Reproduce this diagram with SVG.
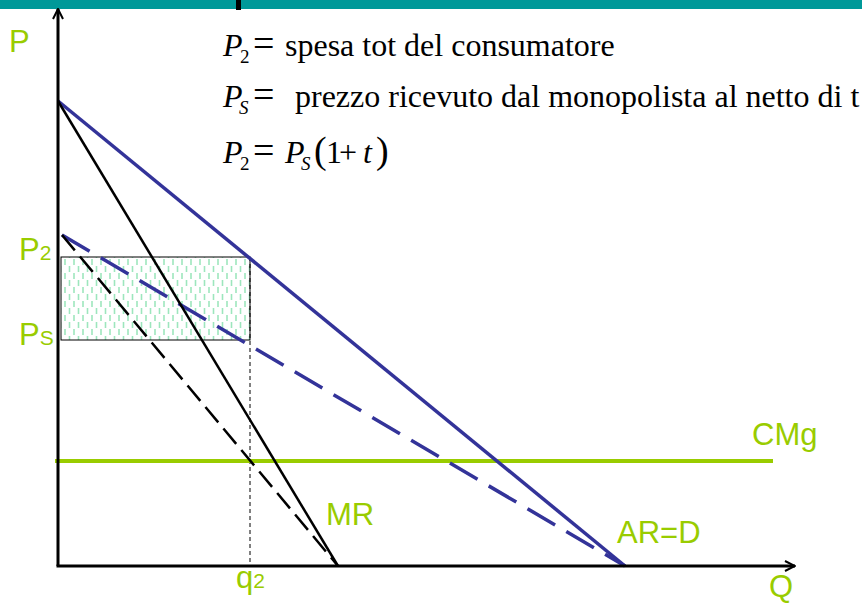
<svg xmlns="http://www.w3.org/2000/svg" width="862" height="604" viewBox="0 0 862 604">
<style>
.lbl{font-family:"Liberation Sans",Arial,sans-serif;fill:#99cc00;font-size:31px}
.lsub{font-size:21px}
.eq{font-family:"Liberation Serif","DejaVu Serif","Times New Roman",serif;fill:#000;font-size:32px}
.sub{font-size:19px}
.big{font-size:38px}
.it{font-style:italic}
.axis{stroke:#000;stroke-width:3;fill:none}
.blue{stroke:#333399;stroke-width:3.5;fill:none}
.blk{stroke:#000;stroke-width:2.5;fill:none}
</style>
<defs>
<marker id="arr" viewBox="0 0 12 12" refX="11" refY="6" markerWidth="12" markerHeight="12" markerUnits="userSpaceOnUse" orient="auto">
<path d="M1,1 L11,6 L1,11" fill="none" stroke="#000" stroke-width="2"/>
</marker>
<pattern id="hatch" width="9" height="14" patternUnits="userSpaceOnUse" x="62" y="258">
<line x1="3" y1="1" x2="3" y2="7" stroke="#9de6bd" stroke-width="1.6"/>
<line x1="7.5" y1="8" x2="7.5" y2="14" stroke="#9de6bd" stroke-width="1.6"/>
</pattern>
</defs>
<rect x="0" y="0" width="862" height="604" fill="#fff"/>
<rect x="0" y="0" width="862" height="9" fill="#009999"/>
<rect x="236" y="0" width="5" height="10" fill="#000"/>

<g id="area">
<rect x="61" y="257" width="189" height="83" fill="url(#hatch)" stroke="#000" stroke-width="1"/>
</g>

<g id="connectors">
<line x1="250" y1="257" x2="250" y2="566" stroke="#000" stroke-width="1" stroke-dasharray="4,3"/>
<line x1="55" y1="461" x2="773" y2="461" stroke="#99cc00" stroke-width="4"/>
<line x1="58" y1="101" x2="625" y2="566" class="blue"/>
<line x1="62" y1="235" x2="625" y2="566" class="blue" stroke-dasharray="32,13"/>
<line x1="58" y1="101" x2="338" y2="566" class="blk"/>
<line x1="62" y1="235" x2="338" y2="566" class="blk" stroke-dasharray="20,8"/>
<line x1="58" y1="566" x2="58" y2="9" class="axis" marker-end="url(#arr)"/>
<line x1="56.5" y1="566" x2="795" y2="566" class="axis" marker-end="url(#arr)"/>
</g>

<g id="labels">
<text class="lbl" x="9" y="52">P</text>
<text class="lbl" x="19" y="260">P<tspan class="lsub">2</tspan></text>
<text class="lbl" x="19" y="345">P<tspan class="lsub">S</tspan></text>
<text class="lbl" x="752" y="445">CMg</text>
<text class="lbl" x="326" y="525">MR</text>
<text class="lbl" x="617" y="543">AR=D</text>
<text class="lbl" x="236" y="588">q<tspan class="lsub">2</tspan></text>
<text class="lbl" x="769" y="597">Q</text>
</g>

<g id="formulas">
<text class="eq" x="223" y="56"><tspan class="it">P</tspan><tspan class="sub" x="240" dy="7">2</tspan><tspan class="big" x="253" dy="-7">=</tspan><tspan x="285">spesa tot del consumatore</tspan></text>
<text class="eq" x="223" y="107"><tspan class="it">P</tspan><tspan class="sub it" x="239" dy="7">S</tspan><tspan class="big" x="253" dy="-7">=</tspan><tspan x="295">prezzo ricevuto dal monopolista al netto di t</tspan></text>
<text class="eq" x="223" y="163"><tspan class="it">P</tspan><tspan class="sub" x="240" dy="7">2</tspan><tspan class="big" x="253" dy="-7">=</tspan><tspan class="it" x="285">P</tspan><tspan class="sub it" x="301" dy="7">S</tspan><tspan class="big" x="314" dy="-7">(</tspan><tspan x="326">1</tspan><tspan x="339">+</tspan><tspan class="it" x="363">t</tspan><tspan class="big" x="376">)</tspan></text>
</g>
</svg>
